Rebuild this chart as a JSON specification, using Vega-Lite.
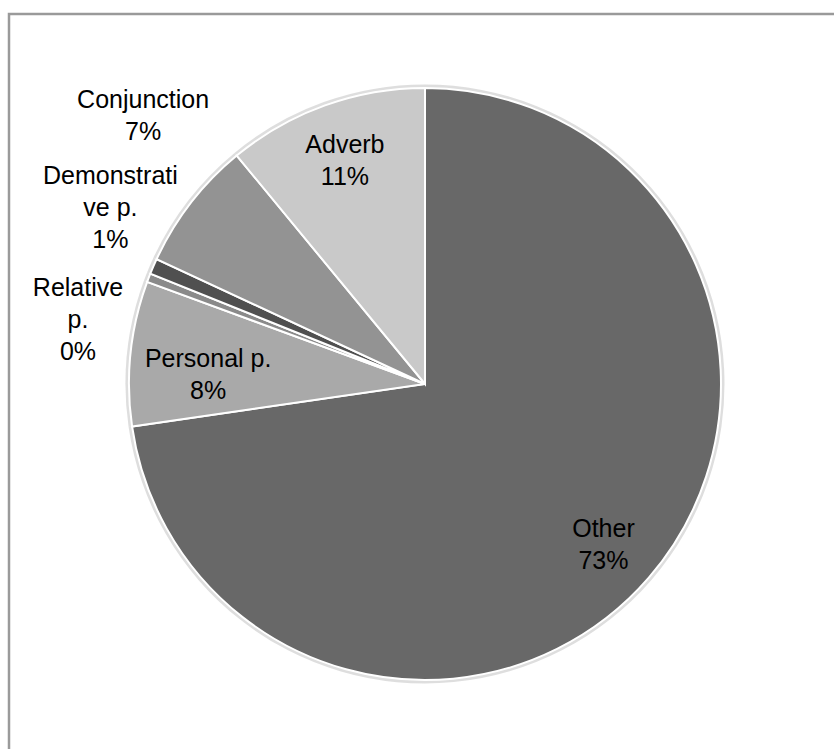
{
  "$schema": "https://vega.github.io/schema/vega-lite/v6.json",
  "width": 832,
  "height": 740,
  "padding": {"left": 9, "top": 14, "right": 0, "bottom": 0},
  "autosize": "none",
  "background": "white",
  "view": {"stroke": "#9a9a9a", "strokeWidth": 2.5},
  "config": {"font": "Liberation Sans"},
  "data": {
    "values": [
      {"idx": 1, "cat": "Other", "value": 72.7, "label": "Other\n73%"},
      {"idx": 2, "cat": "Personal p.", "value": 7.9, "label": "Personal p.\n8%"},
      {"idx": 3, "cat": "Relative p.", "value": 0.47, "label": "Relative\np.\n0%"},
      {"idx": 4, "cat": "Demonstrative p.", "value": 0.85, "label": "Demonstrati\nve p.\n1%"},
      {"idx": 5, "cat": "Conjunction", "value": 7.1, "label": "Conjunction\n7%"},
      {"idx": 6, "cat": "Adverb", "value": 10.97, "label": "Adverb\n11%"}
    ]
  },
  "encoding": {
    "theta": {"field": "value", "type": "quantitative", "stack": true},
    "order": {"field": "idx", "type": "quantitative"}
  },
  "layer": [
    {
      "mark": {"type": "arc", "outerRadius": 299.5, "color": "#d6d6d6", "opacity": 0.8}
    },
    {
      "mark": {"type": "arc", "outerRadius": 296, "stroke": "white", "strokeWidth": 2},
      "encoding": {
        "color": {
          "field": "cat",
          "type": "nominal",
          "legend": null,
          "scale": {
            "domain": ["Other", "Personal p.", "Relative p.", "Demonstrative p.", "Conjunction", "Adverb"],
            "range": ["#686868", "#a9a9a9", "#8a8a8a", "#505050", "#939393", "#c9c9c9"]
          }
        }
      }
    },
    {
      "mark": {"type": "text", "radius": 240, "dx": -3, "dy": -12, "fontSize": 25, "lineHeight": 32, "lineBreak": "\n", "align": "center", "baseline": "middle", "color": "black"},
      "encoding": {"text": {"condition": {"test": "datum.cat === 'Other'", "field": "label", "type": "nominal"}, "value": ""}}
    },
    {
      "mark": {"type": "text", "radius": 237, "dy": -16, "fontSize": 25, "lineHeight": 32, "lineBreak": "\n", "align": "center", "baseline": "middle", "color": "black"},
      "encoding": {"text": {"condition": {"test": "datum.cat === 'Adverb'", "field": "label", "type": "nominal"}, "value": ""}}
    },
    {
      "mark": {"type": "text", "radius": 218, "dy": -2, "fontSize": 25, "lineHeight": 32, "lineBreak": "\n", "align": "center", "baseline": "middle", "color": "black"},
      "encoding": {"text": {"condition": {"test": "datum.cat === 'Personal p.'", "field": "label", "type": "nominal"}, "value": ""}}
    },
    {
      "mark": {"type": "text", "radius": 345, "dx": -9, "dy": -73, "fontSize": 25, "lineHeight": 32, "lineBreak": "\n", "align": "center", "baseline": "middle", "color": "black"},
      "encoding": {"text": {"condition": {"test": "datum.cat === 'Conjunction'", "field": "label", "type": "nominal"}, "value": ""}}
    },
    {
      "mark": {"type": "text", "radius": 345, "dx": 2, "dy": -71, "fontSize": 25, "lineHeight": 32, "lineBreak": "\n", "align": "center", "baseline": "middle", "color": "black"},
      "encoding": {"text": {"condition": {"test": "datum.cat === 'Demonstrative p.'", "field": "label", "type": "nominal"}, "value": ""}}
    },
    {
      "mark": {"type": "text", "radius": 360, "dx": -11, "dy": 33, "fontSize": 25, "lineHeight": 32, "lineBreak": "\n", "align": "center", "baseline": "middle", "color": "black"},
      "encoding": {"text": {"condition": {"test": "datum.cat === 'Relative p.'", "field": "label", "type": "nominal"}, "value": ""}}
    }
  ]
}
